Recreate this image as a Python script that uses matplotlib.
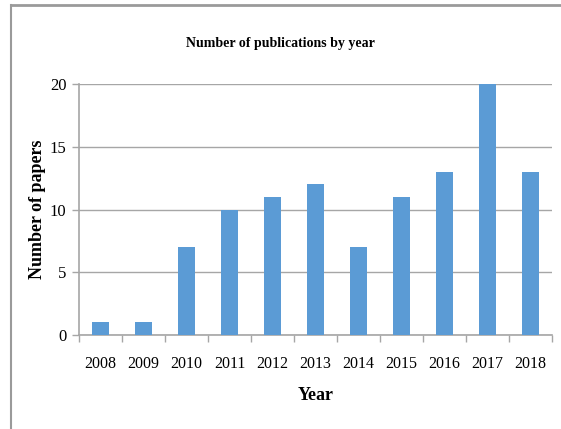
import matplotlib
matplotlib.use("Agg")
import matplotlib.pyplot as plt
from matplotlib.lines import Line2D
import numpy as np

years = ["2008", "2009", "2010", "2011", "2012", "2013",
         "2014", "2015", "2016", "2017", "2018"]
papers = [1, 1, 7, 10, 11, 12, 7, 11, 13, 20, 13]
y_ticks = [0, 5, 10, 15, 20]

BAR_COLOR = "#5B9BD5"
GRID_COLOR = "#A6A6A6"
FONT = "Liberation Serif"

fig = plt.figure(figsize=(5.61, 4.29), dpi=100)
ax = fig.add_axes([79 / 561, 1 - 335 / 429, 473 / 561, 251 / 429])

x = np.arange(len(years))
ax.bar(x, papers, width=0.4, color=BAR_COLOR, zorder=3)

ax.set_xlim(-0.5, len(years) - 0.5)
ax.set_ylim(0, 20)
ax.set_yticks(y_ticks)
ax.set_yticklabels([str(v) for v in y_ticks], family=FONT, fontsize=12)
ax.set_xticks(x)
ax.set_xticklabels(years, family=FONT, fontsize=11.5)
ax.tick_params(axis="x", length=0, pad=15)
ax.tick_params(axis="y", length=5, width=1, color=GRID_COLOR, pad=4)

# category boundary ticks on the x axis
ax.set_xticks(np.arange(-0.5, len(years)), minor=True)
ax.tick_params(axis="x", which="minor", length=5, width=1, color=GRID_COLOR)

ax.grid(axis="y", color=GRID_COLOR, linewidth=1, zorder=0)
for side in ["top", "right"]:
    ax.spines[side].set_visible(False)
for side in ["left", "bottom"]:
    ax.spines[side].set_color(GRID_COLOR)
    ax.spines[side].set_linewidth(1.2)

ax.set_xlabel("Year", family=FONT, fontsize=13, fontweight="bold")
ax.xaxis.set_label_coords(0.5, -(396 - 335) / 251)
ax.xaxis.label.set_va("center")
ax.set_ylabel("Number of papers", family=FONT, fontsize=13, fontweight="bold")
ax.yaxis.set_label_coords(-(79 - 38) / 473, 0.5)
ax.yaxis.label.set_va("center")
fig.text(0.5, 1 - 43 / 429, "Number of publications by year", family=FONT,
         fontsize=10, fontweight="bold", ha="center", va="center")

# outer frame (top and left edges of the chart box)
fig.add_artist(Line2D([11 / 561, 1.0], [1 - 5 / 429, 1 - 5 / 429],
                      transform=fig.transFigure, color="#9A9A9A", linewidth=2))
fig.add_artist(Line2D([11 / 561, 11 / 561], [0.0, 1 - 5 / 429],
                      transform=fig.transFigure, color="#9A9A9A", linewidth=1.5))

fig.savefig("out.png", dpi=100)
